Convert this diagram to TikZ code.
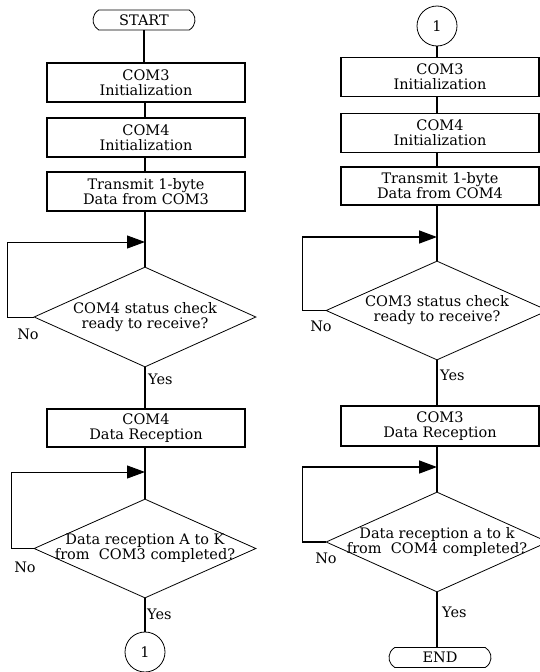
\documentclass[tikz,border=0pt]{standalone}
\usepackage{fontspec}
\setmainfont{DejaVu Serif}
\usetikzlibrary{shapes.geometric, shapes.misc, arrows.meta, positioning}

\tikzset{
  proc/.style={draw, line width=1.5pt, minimum width=198pt, minimum height=39pt,
               inner sep=0pt, align=center},
  term/.style={draw, rounded rectangle, rounded rectangle arc length=120,
               line width=0.8pt, minimum width=102pt, minimum height=20pt, inner sep=0pt},
  decision/.style={draw, diamond, line width=0.8pt, minimum width=222pt,
                   minimum height=100pt, inner sep=0pt},
  dtext/.style={align=center, inner sep=0pt},
  jump/.style={draw, circle, line width=0.8pt, minimum size=40pt, inner sep=0pt},
  flow/.style={line width=1.5pt},
  back/.style={line width=1pt, -{Triangle[length=18pt, width=13pt]}},
  lbl/.style={inner sep=0pt},
}

\begin{document}
\begin{tikzpicture}[x=1pt, y=-1pt, font=\fontsize{14.5}{15}\selectfont]
  \useasboundingbox (0,0) rectangle (539,672);

  % left column
  \node[term] (start) at (144,20) {START};
  \node[proc] (ini3) at (146,82.5) {COM3\\Initialization};
  \node[proc] (ini4) at (146,137.5) {COM4\\Initialization};
  \node[proc] (tx3) at (146,191.5) {Transmit 1-byte\\Data from COM3};
  \coordinate (m1) at (145,242);
  \node[decision] (chk4) at (145,317) {};
  \node[dtext] (chk4txt) at (chk4) {COM4 status check\\ready to receive?};
  \node[proc, minimum height=38pt] (rx4) at (146,428) {COM4\\Data Reception};
  \coordinate (m2) at (145,472);
  \node[decision, minimum height=99pt] (done3) at (145,548.5) {};
  \node[dtext] (done3txt) at (done3) {Data reception A to K\\from~ COM3 completed?};
  \node[jump] (jmp1) at (145,652) {1};

  \node[lbl] (no1) at (28,334) {No};
  \node[lbl, anchor=west] (yes1) at (148,379) {Yes};
  \node[lbl] (no2) at (25,567) {No};
  \node[lbl, anchor=west] (yes2) at (147,614) {Yes};

  \draw[flow] (start.south) -- (start.south |- ini3.north);
  \draw[flow] (chk4.north |- ini3.south) -- (chk4.north |- ini4.north);
  \draw[flow] (chk4.north |- ini4.south) -- (chk4.north |- tx3.north);
  \draw[flow] (chk4.north |- tx3.south) -- (chk4.north);
  \draw[back] (chk4.west) -- ++(-26,0) |- (m1);
  \draw[flow] (chk4.south) -- (chk4.south |- rx4.north);
  \draw[flow] (done3.north |- rx4.south) -- (done3.north);
  \draw[back] (done3.west) -- ++(-22,0) |- (m2);
  \draw[flow] (done3.south) -- (jmp1.north);

  % right column
  \node[jump] (jmp2) at (437,26) {1};
  \node[proc] (ini3b) at (440,77) {COM3\\Initialization};
  \node[proc] (ini4b) at (440,133) {COM4\\Initialization};
  \node[proc, minimum height=38pt] (tx4) at (440,186) {Transmit 1-byte\\Data from COM4};
  \coordinate (m3) at (437,237);
  \node[decision, minimum height=99pt] (chk3) at (437,310.5) {};
  \node[dtext] (chk3txt) at (chk3) {COM3 status check\\ready to receive?};
  \node[proc, minimum height=40pt] (rx3) at (440,426) {COM3\\Data Reception};
  \coordinate (m4) at (437,467);
  \node[decision] (done4) at (437,542) {};
  \node[dtext] (done4txt) at (done4) {Data reception a to k\\from~ COM4 completed?};
  \node[term] (end) at (440,657.5) {END};

  \node[lbl] (no3) at (321,326) {No};
  \node[lbl, anchor=west] (yes3) at (440,375) {Yes};
  \node[lbl] (no4) at (326,558) {No};
  \node[lbl, anchor=west] (yes4) at (442,612) {Yes};

  \draw[flow] (jmp2.south) -- (jmp2.south |- ini3b.north);
  \draw[flow] (chk3.north |- ini3b.south) -- (chk3.north |- ini4b.north);
  \draw[flow] (chk3.north |- ini4b.south) -- (chk3.north |- tx4.north);
  \draw[flow] (chk3.north |- tx4.south) -- (chk3.north);
  \draw[back, line width=1.5pt] (chk3.west) -- ++(-23,0) |- (m3);
  \draw[flow] (chk3.south) -- (chk3.south |- rx3.north);
  \draw[flow] (done4.north |- rx3.south) -- (done4.north);
  \draw[back, line width=1.5pt] (done4.west) -- ++(-23,0) |- (m4);
  \draw[flow] (done4.south) -- (done4.south |- end.north);
\end{tikzpicture}
\end{document}
